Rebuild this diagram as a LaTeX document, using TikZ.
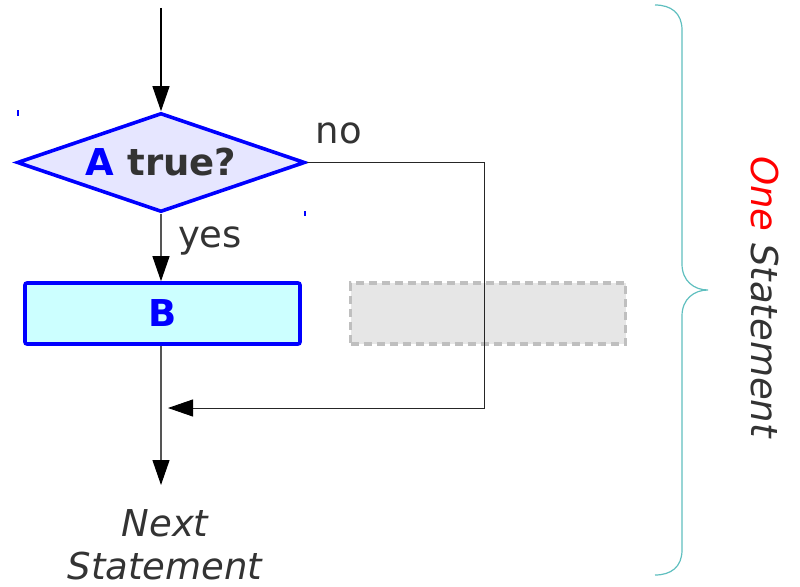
\documentclass[tikz,border=0pt]{standalone}
\usepackage{fontspec}
\setmainfont{DejaVu Sans}
\usetikzlibrary{shapes.geometric,arrows.meta}
\definecolor{txt}{HTML}{333333}
\definecolor{diafill}{HTML}{E6E6FF}
\definecolor{boxfill}{HTML}{CCFFFF}
\definecolor{ghostfill}{HTML}{E6E6E6}
\definecolor{ghostline}{HTML}{BFBFBF}
\definecolor{bracecol}{HTML}{5FBFBF}
\definecolor{linecol}{HTML}{555555}
\tikzset{
  bigfont/.style={font=\fontsize{37}{43}\selectfont},
  decision/.style={diamond, draw=blue, line width=3.6pt, fill=diafill, inner sep=0pt,
    aspect=2.91, minimum width=288pt, minimum height=99pt, bigfont, text=txt},
  stepbox/.style={rectangle, draw=blue, line width=3.6pt, fill=boxfill, rounded corners=2pt,
    minimum width=275pt, minimum height=61pt, inner sep=0pt, bigfont, text=blue},
  ghostbox/.style={rectangle, draw=ghostline, line width=3.2pt, fill=ghostfill,
    dash pattern=on 8pt off 5pt, minimum width=275pt, minimum height=61pt, inner sep=0pt},
  conn/.style={draw=linecol, line width=1.1pt, -{Triangle[length=25pt,width=17pt,color=black]}},
  lbl/.style={bigfont, text=txt, inner sep=0pt},
}
\begin{document}
\begin{tikzpicture}[x=1pt,y=-1pt]
\useasboundingbox (0,0) rectangle (800,586);
% nodes
\node[decision] (dia) at (161,162.5) {\textbf{\textcolor{blue}{A} true?}};
\node[stepbox] (B) at (162.5,313.5) {\textbf{B}};
\node[ghostbox] (ghost) at (488,313.5) {};
\node[lbl] (no) at (339,133) {no};
\node[lbl] (yes) at (210,241) {yes};
\node[lbl, align=center, font=\fontsize{37}{43}\selectfont\itshape] (next) at (165,545) {Next\\Statement};
\node[lbl, rotate=-90, font=\fontsize{37}{43}\selectfont\itshape] (one) at (765,297) {\textcolor{red}{One} Statement};
% coordinates
\coordinate (start) at (161,8);
\coordinate (corner) at (484,162.5);
\coordinate (join) at (168,408);
\coordinate (endarrow) at (161,485);
% connectors
\draw[conn, draw=black] (start) -- (dia.north);
\draw[conn] (dia.south) -- (dia.south |- B.north);
\draw[conn, draw=black!85, line width=0.9pt] (dia.east) -- (corner) |- (join);
\draw[conn] (B.south -| dia.south) -- (endarrow);
% tiny marks
\draw[blue, line width=1.2pt] (18,110) -- (18,116);
\draw[blue, line width=1.2pt] (305,211) -- (305,216);
% brace
\draw[bracecol, line width=1.2pt]
  (655,5) .. controls (671,5) and (682,13) .. (682,30)
  -- (682,264) .. controls (682,281) and (694,290) .. (708,290)
  .. controls (694,290) and (682,299) .. (682,316)
  -- (682,550) .. controls (682,567) and (671,575) .. (655,575);
\end{tikzpicture}
\end{document}
